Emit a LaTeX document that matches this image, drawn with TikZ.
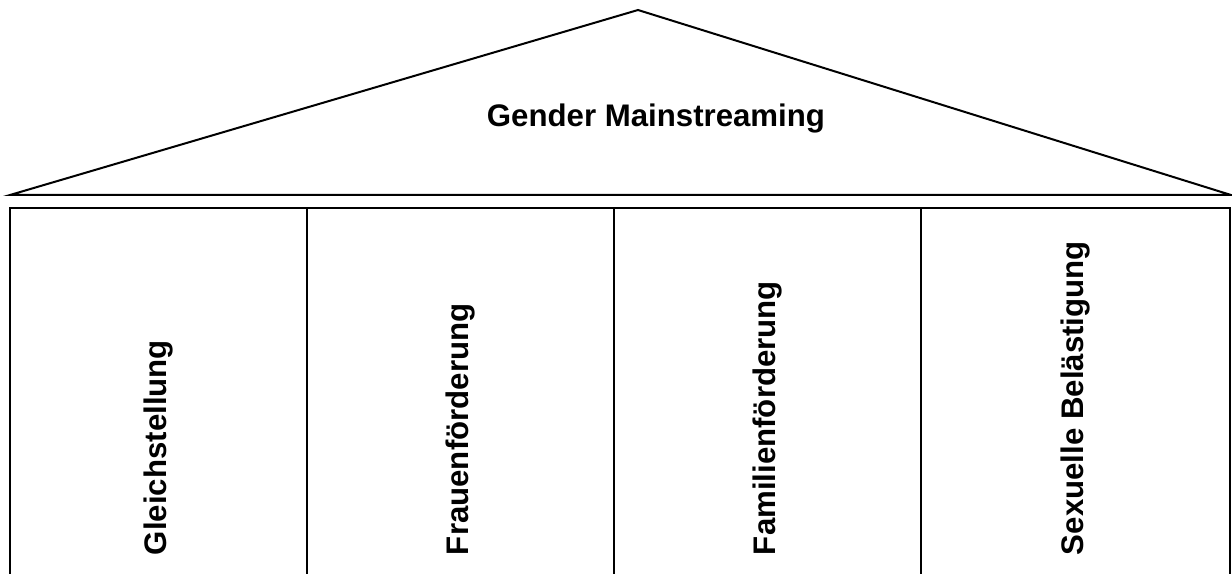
\documentclass[tikz,border=0pt]{standalone}
\usepackage{fontspec}
\setmainfont{Liberation Sans}
\begin{document}
\begin{tikzpicture}[x=0.75pt,y=-0.75pt, line width=1.5pt,
 lbl/.style={font=\fontsize{23.4}{28}\selectfont\bfseries, inner sep=0pt},
 pillar/.style={lbl, rotate=90, anchor=west}]
\useasboundingbox (0,0) rectangle (1232,574);
\draw[line join=miter] (10,195) -- (638,10) -- (1231,195) -- cycle;
\draw (10,574) -- (10,208) -- (1230,208) -- (1230,574);
\foreach \x in {307,614,921} \draw (\x,208) -- (\x,574);
\node[lbl, anchor=base] (title) at (656,127) {Gender Mainstreaming};
\node[pillar] (p1) at (158.5,556) {Gleichstellung};
\node[pillar] (p2) at (460.5,556) {Frauenförderung};
\node[pillar] (p3) at (767.5,556) {Familienförderung};
\node[pillar] (p4) at (1075.5,556) {Sexuelle Belästigung};
\end{tikzpicture}
\end{document}
